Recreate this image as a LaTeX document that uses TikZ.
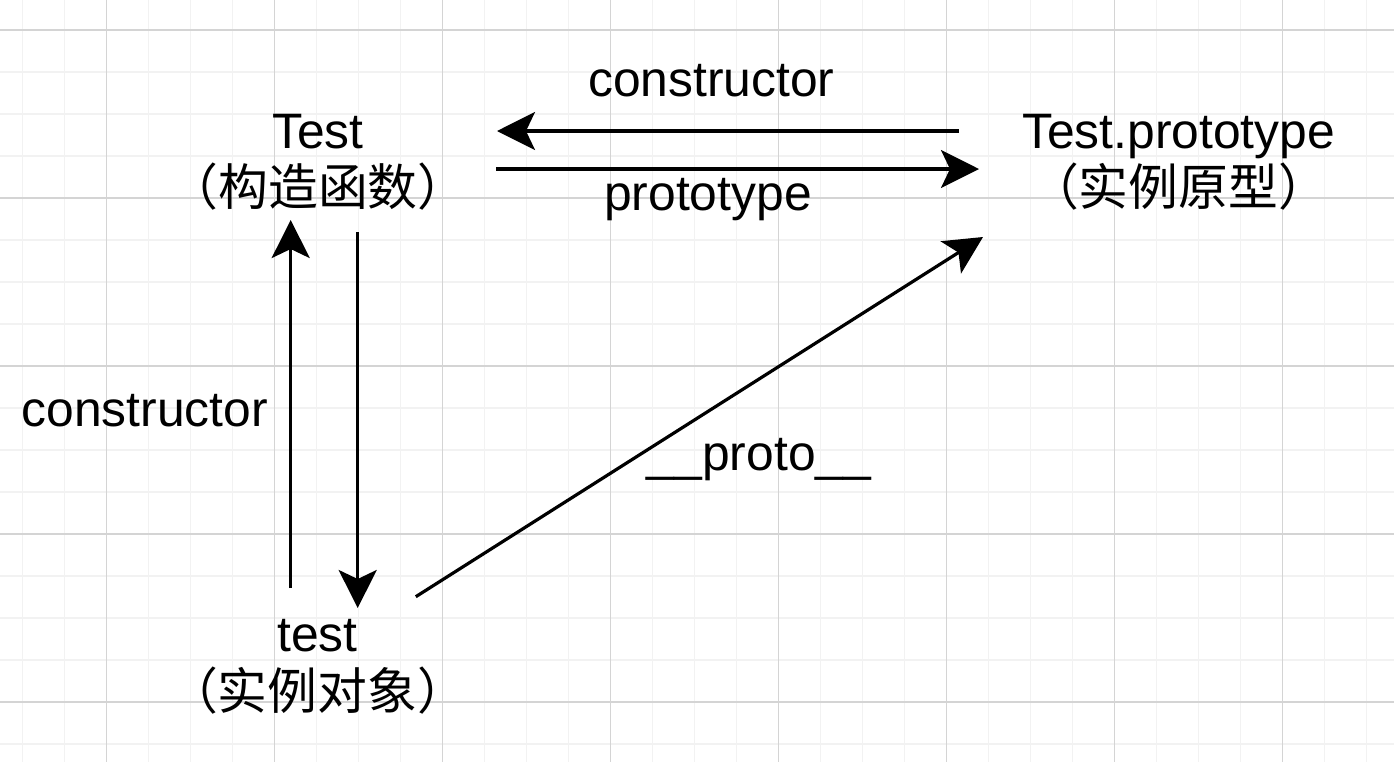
\documentclass[tikz,border=0pt]{standalone}
\usepackage{fontspec}
\setmainfont{Liberation Sans}
\newfontfamily\cjk{Noto Sans CJK SC}
\usetikzlibrary{arrows.meta}
\definecolor{gridminor}{HTML}{F2F2F2}
\definecolor{gridmajor}{HTML}{D4D4D4}
\begin{document}
\begin{tikzpicture}[x=0.5pt,y=-0.5pt,
  lbl/.style={inner sep=0pt, anchor=base, font=\fontsize{24.9pt}{29pt}\selectfont},
  cn/.style={inner sep=0pt, anchor=base, font=\fontsize{24.9pt}{29pt}\selectfont\cjk},
  conn/.style={line width=1.6pt, -{Stealth[length=19pt,width=19pt,inset=4.5pt]}},
  minorline/.style={gridminor, line width=0.6pt},
  majorline/.style={gridmajor, line width=0.6pt}]
\useasboundingbox (0,0) rectangle (1394,762);
\fill[white] (0,0) rectangle (1394,762);
% grid
\foreach \i in {0,...,32} \draw[minorline] ({22.7+42*\i},0) -- ({22.7+42*\i},762);
\foreach \j in {0,...,17} \draw[minorline] (0,{30+42*\j}) -- (1394,{30+42*\j});
\foreach \i in {0,...,7} \draw[majorline] ({106.7+168*\i},0) -- ({106.7+168*\i},762);
\foreach \j in {0,...,4} \draw[majorline] (0,{30+168*\j}) -- (1394,{30+168*\j});
% nodes
\node[lbl] (Test) at (318,148) {Test};
\node[cn] (TestCN) at (318,205) {（构造函数）};
\node[lbl] (Proto) at (1178.5,148) {Test.prototype};
\node[cn] (ProtoCN) at (1178.5,205) {（实例原型）};
\node[lbl] (test) at (317.5,651.7) {test};
\node[cn] (testCN) at (317.5,709) {（实例对象）};
% connector end points
\coordinate (ctorA) at (959,131);
\coordinate (ctorB) at (497,131);
\coordinate (protA) at (496,169);
\coordinate (protB) at (979,169);
\coordinate (upA) at (290.7,588);
\coordinate (upB) at (290.7,220);
\coordinate (dnA) at (357.7,232);
\coordinate (dnB) at (357.7,608);
\coordinate (diA) at (415.8,596.7);
\coordinate (diB) at (983,237);
% connectors
\draw[conn] (ctorA) -- (ctorB);
\draw[conn] (protA) -- (protB);
\draw[conn] (upA) -- (upB);
\draw[conn] (dnA) -- (dnB);
\draw[conn] (diA) -- (diB);
% labels
\node[lbl] (lctorTop) at (711.3,96.7) {constructor};
\node[lbl] (lproto) at (708,210) {prototype};
\node[lbl] (lctorLeft) at (144.7,426.7) {constructor};
\node[lbl] (lprotoD) at (759,470.7) {\_\_proto\_\_};
\end{tikzpicture}
\end{document}
